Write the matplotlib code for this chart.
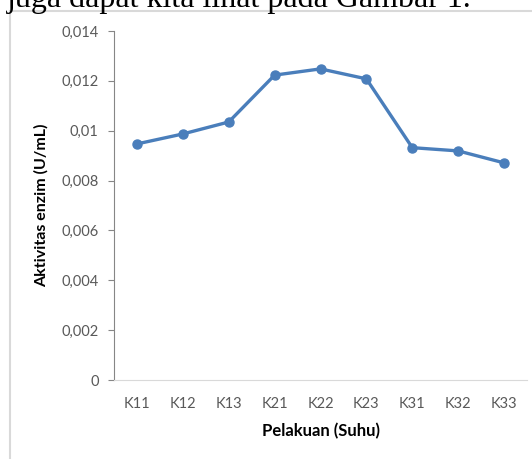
import matplotlib.pyplot as plt
from matplotlib.patches import Rectangle
from matplotlib.ticker import FixedLocator

# Data
categories = ['K11', 'K12', 'K13', 'K21', 'K22', 'K23', 'K31', 'K32', 'K33']
activity = [0.00947, 0.00987, 0.01035, 0.01223, 0.01248, 0.01208, 0.00932, 0.00919, 0.00871]
y_ticks = [0, 0.002, 0.004, 0.006, 0.008, 0.01, 0.012, 0.014]
y_tick_labels = ['0', '0,002', '0,004', '0,006', '0,008', '0,01', '0,012', '0,014']

plt.rcParams['font.family'] = ['Lato', 'DejaVu Sans']

fig = plt.figure(figsize=(5.32, 4.59), dpi=100)

# Caption text from the page, cut off at the top
fig.text(0.013, 1 - 7 / 459, 'juga dapat kita lihat pada Gambar 1.', family='Liberation Serif',
         fontsize=23, va='baseline', ha='left', color='black')

# Chart frame
fig.patches.append(Rectangle((9.5 / 532, -0.1), 1.1, 0.1 + 1 - 11.5 / 459, transform=fig.transFigure,
                             fill=False, edgecolor='#d9d9d9', linewidth=1.5))

ax = fig.add_axes([114 / 532, 1 - 380 / 459, (527 - 114) / 532, (380 - 31) / 459])
x = range(len(categories))
ax.plot(x, activity, color='#4a7ebb', linewidth=2.4, marker='o', markersize=6.5,
        solid_capstyle='round', solid_joinstyle='round')

ax.set_xlim(-0.5, len(categories) - 0.5)
ax.set_ylim(0, 0.014)
ax.yaxis.set_major_locator(FixedLocator(y_ticks))
ax.set_yticklabels(y_tick_labels)
ax.set_xticks(list(x))
ax.set_xticklabels(categories)

for side in ['top', 'right']:
    ax.spines[side].set_visible(False)
ax.spines['left'].set_color('#868686')
ax.spines['bottom'].set_color('#d9d9d9')
ax.tick_params(axis='y', colors='#868686', labelcolor='#595959', labelsize=10.5, length=4, pad=7)
ax.tick_params(axis='x', length=0, labelcolor='#595959', labelsize=10.5, pad=12)

ax.set_ylabel('Aktivitas enzim (U/mL)', fontsize=11.5, fontweight='bold', labelpad=9)
ax.set_xlabel('Pelakuan (Suhu)', fontsize=12, fontweight='bold', labelpad=9)

fig.savefig('out.png', dpi=100)
